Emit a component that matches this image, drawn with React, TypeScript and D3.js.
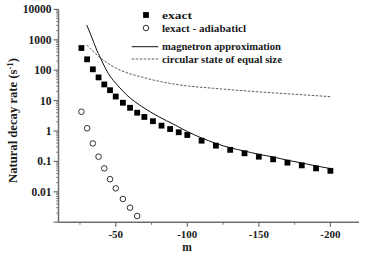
import * as d3 from "d3";

// exact values (filled squares)
const mExact = [-26, -30, -34, -38, -42, -46, -50, -55, -60, -65, -70, -76, -82, -88, -94, -100,
  -110, -120, -130, -140, -150, -160, -170, -180, -190, -200];
const rateExact = [537, 228, 107, 58, 34, 22, 13.6, 8.5, 5.8, 4.0, 2.9, 2.1, 1.5, 1.16, 0.91, 0.74,
  0.48, 0.33, 0.24, 0.185, 0.143, 0.117, 0.091, 0.074, 0.059, 0.049];

// exact - adiabatic (open circles)
const mAdiab = [-26, -30, -34, -38, -42, -46, -50, -55, -60, -65, -70];
const rateAdiab = [4.3, 1.23, 0.39, 0.143, 0.059, 0.026, 0.013, 0.0058, 0.003, 0.0016, 0.0008];

// magnetron approximation (solid)
const mMagnetron = [-29.7, -33.2, -36.7, -39, -41.3, -44.8, -48.3, -53, -57.7, -68.2, -79.8, -91.5,
  -100, -110, -120, -130, -140, -150, -160, -170, -180, -190, -200];
const rateMagnetron = [3070, 1236, 462, 272, 160, 78, 46, 26, 15.3, 6.4, 3.0, 1.57,
  0.96, 0.59, 0.39, 0.28, 0.22, 0.17, 0.14, 0.109, 0.089, 0.071, 0.058];

// circular state of equal size (dashed)
const mCircular = [-29.7, -39, -48.3, -71.7, -95, -118.3, -141.6, -164.9, -201];
const rateCircular = [676, 260, 131, 54, 32.6, 25.4, 20.7, 17.4, 13.4];

const xTicks = [-50, -100, -150, -200];
const xMinorTicks = [-25, -75, -125, -175];
const yTicks = [0.01, 0.1, 1, 10, 100, 1000, 10000];
const yTickLabels = ["0.01", "0.1", "1", "10", "100", "1000", "10000"];

const legendLabels = ["exact", "lexact - adiabaticl", "magnetron approximation", "circular state of equal size"];
const legendWidths = [30, 84, 119, 120];

const FONT = "'Liberation Serif', 'Times New Roman', Times, serif";

export default function App() {
  const width = 365;
  const height = 254;
  const left = 58.5;
  const right = 359;
  const top = 9.4;
  const bottom = 222.2;

  const x = d3.scaleLinear().domain([-10, -220]).range([left, right]);
  const y = d3.scaleLog().domain([0.001, 10000]).range([bottom, top]);

  const line = d3
    .line<[number, number]>()
    .x((d) => x(d[0]))
    .y((d) => y(d[1]))
    .curve(d3.curveMonotoneX);

  const magPath = line(mMagnetron.map((m, i) => [m, rateMagnetron[i]]));
  const circPath = line(mCircular.map((m, i) => [m, rateCircular[i]]));

  // minor log ticks
  const minorY: number[] = [];
  for (let k = -3; k < 4; k++) {
    for (let j = 2; j <= 9; j++) minorY.push(j * Math.pow(10, k));
  }

  const axisColor = "#6e6e6e";
  const textColor = "#1a1a1a";

  return (
    <svg
      width={width}
      height={height}
      style={{position: "absolute", left: 0, top: 0, background: "#fff", fontFamily: FONT}}
    >
      <defs>
        <clipPath id="plot">
          <rect x={left} y={top} width={right - left} height={bottom - top} />
        </clipPath>
      </defs>

      {/* axes */}
      <line x1={left} x2={left} y1={top} y2={bottom} stroke={axisColor} strokeWidth={1.5} />
      <line x1={left} x2={right} y1={bottom} y2={bottom} stroke={axisColor} strokeWidth={1.5} />

      {minorY.map((v) => (
        <line key={"my" + v} x1={left - 2.5} x2={left} y1={y(v)} y2={y(v)} stroke={axisColor} strokeWidth={0.8} />
      ))}
      {yTicks.concat([0.001]).map((v) => (
        <line key={"ty" + v} x1={left - 5} x2={left} y1={y(v)} y2={y(v)} stroke={axisColor} strokeWidth={1.2} />
      ))}
      {yTicks.map((v, i) => (
        <text
          key={"ly" + v}
          x={left - 7}
          y={y(v)}
          dy="0.35em"
          textAnchor="end"
          fontSize={11.5}
          fontWeight="bold"
          fill={textColor}
        >
          {yTickLabels[i]}
        </text>
      ))}

      {xMinorTicks.map((v) => (
        <line key={"mx" + v} x1={x(v)} x2={x(v)} y1={bottom} y2={bottom + 2.5} stroke={axisColor} strokeWidth={1} />
      ))}
      {xTicks.map((v) => (
        <line key={"tx" + v} x1={x(v)} x2={x(v)} y1={bottom} y2={bottom + 4.5} stroke={axisColor} strokeWidth={1.2} />
      ))}
      {xTicks.map((v) => (
        <text key={"lx" + v} x={x(v)} y={237.5} textAnchor="middle" fontSize={11} fontWeight="bold" fill={textColor}>
          {v}
        </text>
      ))}

      <text x={187} y={251} textAnchor="middle" fontSize={11.5} fontWeight="bold" fill={textColor}>
        m
      </text>
      <text
        transform="translate(16.5,120.5) rotate(-90)"
        textAnchor="middle"
        fontSize={11.5}
        fontWeight="bold"
        fill={textColor}
        textLength={125}
        lengthAdjust="spacingAndGlyphs"
      >
        Natural decay rate (s
        <tspan fontSize={8} dy={-4}>-1</tspan>
        <tspan dy={4}>)</tspan>
      </text>

      <g clipPath="url(#plot)">
        <path d={magPath ?? ""} fill="none" stroke="#111" strokeWidth={1} />
        <path d={circPath ?? ""} fill="none" stroke="#333" strokeWidth={0.8} strokeDasharray="2.5,1.5" />
        {mExact.map((m, i) => (
          <rect key={"e" + m} x={x(m) - 2.9} y={y(rateExact[i]) - 2.9} width={5.8} height={5.8} fill="#000" />
        ))}
        {mAdiab.map((m, i) => (
          <circle key={"a" + m} cx={x(m)} cy={y(rateAdiab[i])} r={2.8} fill="#fff" stroke="#000" strokeWidth={0.8} />
        ))}
      </g>

      {/* legend */}
      <rect x={146 - 2.9} y={15 - 2.9} width={5.8} height={5.8} fill="#000" />
      <circle cx={146} cy={28} r={2.8} fill="#fff" stroke="#000" strokeWidth={0.8} />
      <line x1={131.7} x2={158.3} y1={46.7} y2={46.7} stroke="#111" strokeWidth={1} />
      <line x1={131.7} x2={158.3} y1={59} y2={59} stroke="#333" strokeWidth={0.8} strokeDasharray="2.5,1.5" />
      {legendLabels.map((t, i) => (
        <text
          key={t}
          x={162}
          y={[15, 28, 46.7, 59][i]}
          dy="0.35em"
          fontSize={10.5}
          fontWeight="bold"
          fill={textColor}
          textLength={legendWidths[i]}
          lengthAdjust="spacingAndGlyphs"
        >
          {t}
        </text>
      ))}
    </svg>
  );
}
